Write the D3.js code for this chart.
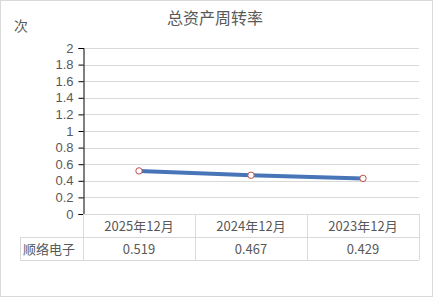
<!DOCTYPE html>
<html>
<head>
<meta charset="utf-8">
<script src="https://cdn.jsdelivr.net/npm/d3@7"></script>
<style>
  body { margin: 0; background: #fff; }
  svg { display: block; font-family: "Noto Sans CJK SC", "Noto Sans", sans-serif; }
</style>
</head>
<body>
<svg id="chart" width="433" height="297"></svg>
<script>
var categories = ["2025年12月", "2024年12月", "2023年12月"];
var seriesName = "顺络电子";
var values = [0.519, 0.467, 0.429];
var yTicks = [0, 0.2, 0.4, 0.6, 0.8, 1, 1.2, 1.4, 1.6, 1.8, 2];

var svg = d3.select("#chart");
var textColor = "#595959", gridColor = "#d9d9d9";

svg.append("rect")
  .attr("x", 0.5).attr("y", 0.5).attr("width", 432).attr("height", 296)
  .attr("fill", "#fff").attr("stroke", gridColor);

var margin = {left: 83, right: 14, top: 48, bottom: 83};
var width = 433 - margin.left - margin.right,
    height = 297 - margin.top - margin.bottom;

var x = d3.scaleBand().domain(categories).range([0, width]);
var y = d3.scaleLinear().domain([0, 2]).range([height, 0]);

svg.append("text")
  .attr("x", 215).attr("y", 24)
  .attr("text-anchor", "middle")
  .attr("fill", textColor).attr("font-size", 16)
  .text("总资产周转率");

svg.append("text")
  .attr("x", 14).attr("y", 31)
  .attr("fill", textColor).attr("font-size", 14)
  .text("次");

var g = svg.append("g").attr("transform", "translate(" + margin.left + "," + margin.top + ")");

// gridlines
g.selectAll(".grid").data(yTicks.filter(d => d > 0)).enter()
  .append("line")
    .attr("x1", 0).attr("x2", width)
    .attr("y1", d => Math.round(y(d)) + 0.5).attr("y2", d => Math.round(y(d)) + 0.5)
    .attr("stroke", gridColor);

// y axis
var yAxis = g.append("g")
  .attr("transform", "translate(0.5,0)")
  .call(d3.axisLeft(y).tickValues(yTicks).tickSize(5).tickPadding(5).tickFormat(d3.format("")));
yAxis.select(".domain").attr("stroke", "#000");
yAxis.selectAll(".tick line").attr("stroke", "#000");
yAxis.selectAll("text").attr("fill", textColor).attr("font-size", 13)
  .attr("font-family", "\"Liberation Sans\", sans-serif");

// table
var rowH = 23;
var table = g.append("g").attr("transform", "translate(0," + height + ")");
var tableLeft = 20 - margin.left;

// horizontal borders
[[0, width, 0], [tableLeft, width, rowH], [tableLeft, width, rowH * 2]].forEach(function (r) {
  table.append("line")
    .attr("x1", r[0]).attr("x2", r[1])
    .attr("y1", r[2] + 0.5).attr("y2", r[2] + 0.5)
    .attr("stroke", gridColor);
});
// vertical borders
table.append("line")
  .attr("x1", tableLeft + 0.5).attr("x2", tableLeft + 0.5)
  .attr("y1", rowH).attr("y2", rowH * 2)
  .attr("stroke", gridColor);
var bounds = categories.map(c => x(c)).concat([width]);
bounds.forEach(function (bx, i) {
  table.append("line")
    .attr("x1", bx + 0.5).attr("x2", bx + 0.5)
    .attr("y1", i === 0 ? 0.5 : 0).attr("y2", rowH * 2)
    .attr("stroke", gridColor);
});

table.selectAll(".cat").data(categories).enter()
  .append("text")
    .attr("x", d => x(d) + x.bandwidth() / 2)
    .attr("y", rowH / 2 + 5)
    .attr("text-anchor", "middle")
    .attr("fill", textColor).attr("font-size", 13)
    .text(d => d);

table.append("text")
  .attr("x", tableLeft + 3)
  .attr("y", rowH * 1.5 + 5)
  .attr("fill", textColor).attr("font-size", 13)
  .text(seriesName);

table.selectAll(".val").data(values).enter()
  .append("text")
    .attr("x", (d, i) => x(categories[i]) + x.bandwidth() / 2)
    .attr("y", rowH * 1.5 + 5)
    .attr("text-anchor", "middle")
    .attr("fill", textColor).attr("font-size", 13)
    .text(d => d3.format(".3f")(d));

// line
var line = d3.line()
  .x((d, i) => x(categories[i]) + x.bandwidth() / 2)
  .y(d => y(d));

g.append("path")
  .datum(values)
  .attr("fill", "none")
  .attr("stroke", "#4775b8")
  .attr("stroke-width", 4)
  .attr("stroke-linecap", "round")
  .attr("d", line);

g.selectAll(".pt").data(values).enter()
  .append("circle")
    .attr("cx", (d, i) => x(categories[i]) + x.bandwidth() / 2)
    .attr("cy", d => y(d))
    .attr("r", 3.2)
    .attr("fill", "#fff")
    .attr("stroke", "#c0504d")
    .attr("stroke-width", 1);
</script>
</body>
</html>
